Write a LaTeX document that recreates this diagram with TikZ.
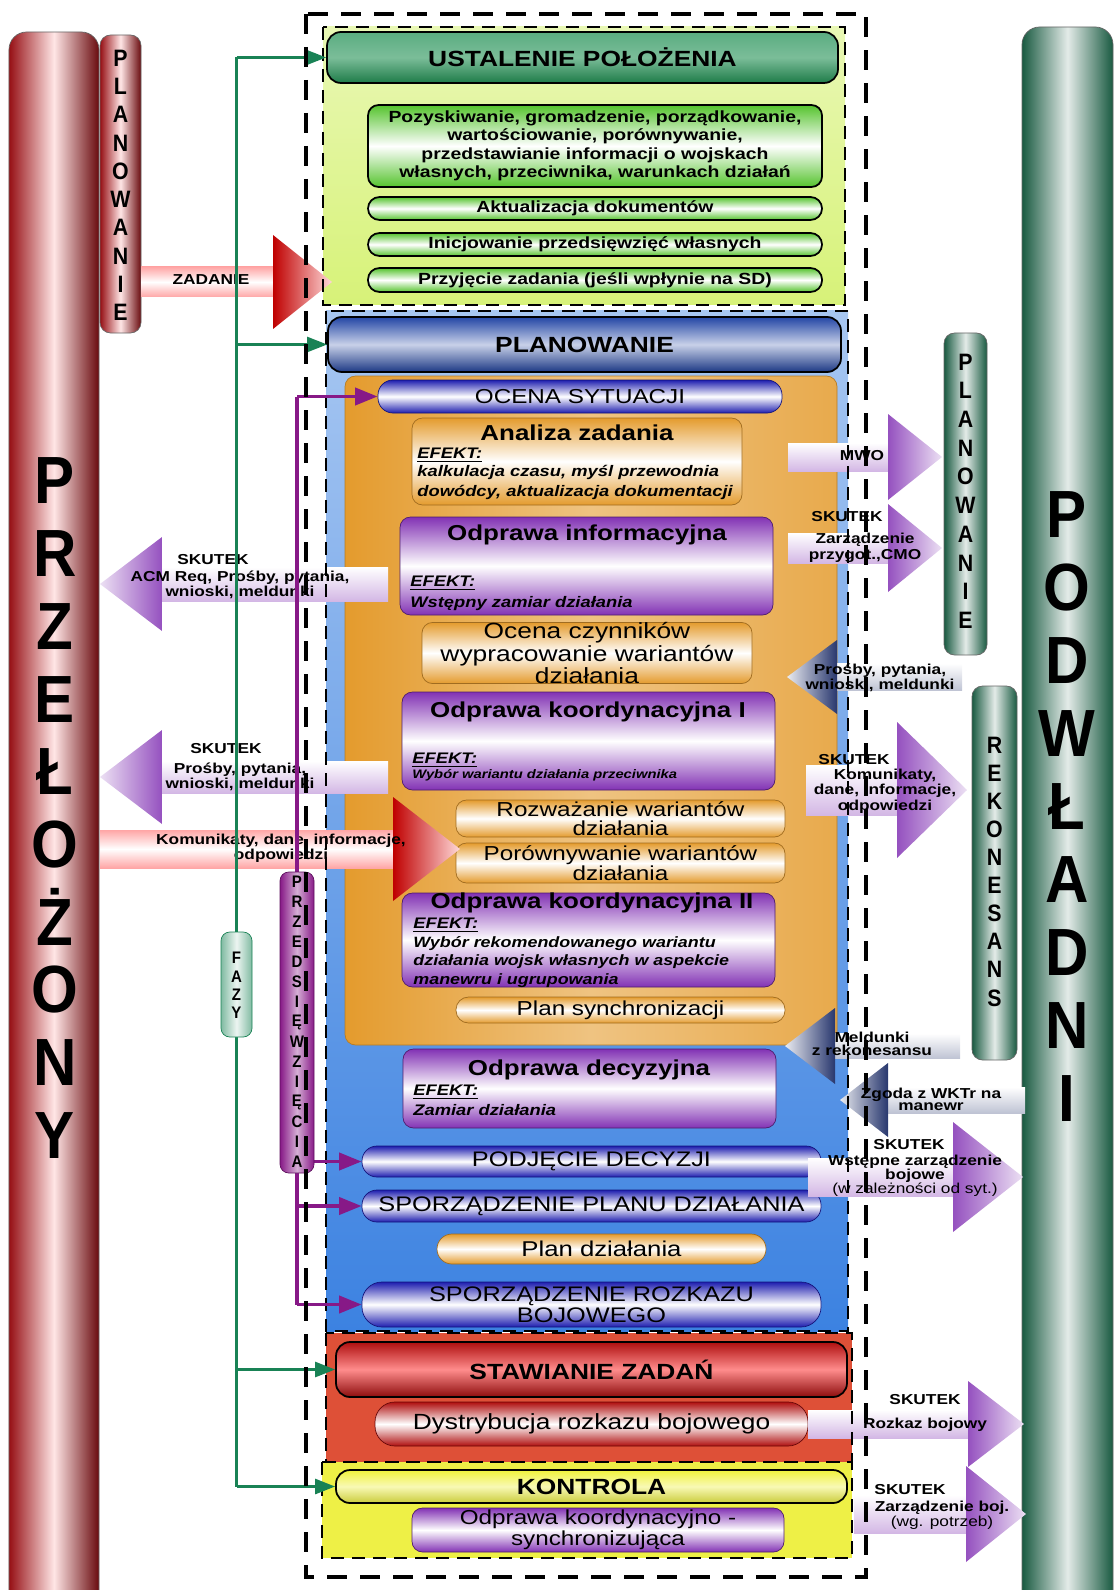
\documentclass[tikz,border=0pt]{standalone}
\usepackage{fontspec}
\setmainfont{Liberation Sans}[FakeStretch=1.2]
\newfontfamily\narrowfont{Liberation Sans}[FakeStretch=0.9]
\usepackage{tikz}
\usetikzlibrary{arrows.meta, positioning, calc}

\definecolor{przred}{RGB}{150,15,20}
\definecolor{podgreen}{RGB}{25,90,65}
\definecolor{ustgreen}{RGB}{35,145,85}
\definecolor{limebg}{RGB}{215,242,120}
\definecolor{boxgreen}{RGB}{85,195,45}
\definecolor{planblue}{RGB}{35,70,165}
\definecolor{skyblue}{RGB}{60,130,225}
\definecolor{ocher}{RGB}{228,155,45}
\definecolor{lilac}{RGB}{130,50,180}
\definecolor{pillblue}{RGB}{30,30,175}
\definecolor{tomato}{RGB}{222,80,55}
\definecolor{darkred}{RGB}{175,15,15}
\definecolor{lemon}{RGB}{238,240,70}
\definecolor{fazgreen}{RGB}{25,130,85}
\definecolor{przpurple}{RGB}{135,25,135}
\definecolor{slate}{RGB}{40,55,110}

% block arrow: body, head, x start, x base, x tip, y, half body, half head
\newcommand{\blockarr}[8]{%
  \shade[#1] (#3,#6-#7) rectangle (#4,#6+#7);
  \shade[#2] (#4,#6-#8) -- (#5,#6) -- (#4,#6+#8) -- cycle;}

\begin{document}
\begin{tikzpicture}[x=0.2mm, y=-0.2mm,
  sec/.style={draw=black, line width=0.9pt, dash pattern=on 2.6mm off 1.6mm},
  outer/.style={draw=black, line width=1.8pt, dash pattern=on 4mm off 2.6mm},
  cyl/.style={draw=black!60, rounded corners=10pt, inner sep=0pt},
  biglet/.style={font=\narrowfont\bfseries\fontsize{38}{38}\selectfont, inner sep=0pt},
  midlet/.style={font=\narrowfont\bfseries\fontsize{13.5}{13.5}\selectfont, inner sep=0pt},
  smlet/.style={font=\narrowfont\bfseries\fontsize{9.5}{9.5}\selectfont, inner sep=0pt},
  hdr/.style={draw=black, line width=1pt, rounded corners=8pt, inner sep=0pt, font=\fontsize{12.5}{14}\selectfont\bfseries},
  grbox/.style={draw=black, line width=1pt, rounded corners=6pt, inner sep=0pt, top color=boxgreen, bottom color=boxgreen, middle color=white, align=center, font=\fontsize{9.2}{10.5}\selectfont\bfseries},
  grpill/.style={grbox, rounded corners=2.3mm},
  orbox/.style={draw=ocher!70!black, rounded corners=6pt, inner sep=0pt, top color=ocher, bottom color=ocher, middle color=white, align=center, font=\fontsize{12.5}{11}\selectfont},
  pubox/.style={draw=lilac!60!black, rounded corners=6pt, inner sep=0pt, top color=lilac, bottom color=lilac, middle color=white, align=center},
  blpill/.style={draw=pillblue!70!black, rounded corners=3mm, inner sep=0pt, top color=pillblue, bottom color=pillblue, middle color=white, align=center, font=\fontsize{12}{12}\selectfont},
  ttl/.style={font=\fontsize{12.3}{14}\selectfont\bfseries, inner sep=0pt},
  eff/.style={font=\fontsize{8.7}{11.3}\selectfont\bfseries\itshape, inner sep=0pt, align=left, anchor=west},
  lbl/.style={font=\fontsize{8.2}{8.8}\selectfont\bfseries, inner sep=0pt, align=center},
  purbody/.style={top color=white, bottom color=lilac!35},
  purhead/.style={left color=lilac!85, right color=lilac!15},
  purheadl/.style={left color=lilac!15, right color=lilac!85},
  bluebody/.style={top color=white, bottom color=slate!30},
  blueheadl/.style={left color=slate!10, right color=slate},
  redbody/.style={top color=red!35, bottom color=red!35, middle color=white},
  redhead/.style={left color=red!75!black, right color=red!15},
  fazline/.style={draw=fazgreen, line width=1.5pt},
  fazarrow/.style={fazline, -{Triangle[length=4mm, width=3mm]}},
  przline/.style={draw=przpurple, line width=2.2pt},
  przarrow/.style={przline, -{Triangle[length=4.5mm, width=3.4mm]}}]
\useasboundingbox (0,0) rectangle (1116,1590);

% side columns
\node[cyl, left color=przred, right color=przred!70!black, middle color=red!10, minimum width=18mm, minimum height=315.6mm] (przel) at (54,821) {};
\foreach \l [count=\i] in {P,R,Z,E,Ł,O,Ż,O,N,Y}
  \node[biglet] (przel-\i) at (55,408.3+72.7*\i) {\l};
\node[cyl, left color=podgreen, right color=podgreen, middle color=podgreen!12, minimum width=18.2mm, minimum height=316.6mm] (podw) at (1067.5,818.5) {};
\foreach \l [count=\i] in {P,O,D,W,Ł,A,D,N,I}
  \node[biglet] (podw-\i) at (1067,442+73*\i) {\l};
\node[cyl, rounded corners=6pt, left color=przred, right color=przred!70!black, middle color=red!10, minimum width=8.2mm, minimum height=59.6mm] (planl) at (120.5,184) {};
\foreach \l [count=\i] in {P,L,A,N,O,W,A,N,I,E}
  \node[midlet] (planl-\i) at (120.5,29.7+28.3*\i) {\l};
\node[cyl, rounded corners=6pt, left color=podgreen, right color=podgreen, middle color=podgreen!12, minimum width=8.6mm, minimum height=64.4mm] (planr) at (965.5,494) {};
\foreach \l [count=\i] in {P,L,A,N,O,W,A,N,I,E}
  \node[midlet] (planr-\i) at (965.5,333.3+28.7*\i) {\l};
\node[cyl, rounded corners=6pt, left color=podgreen, right color=podgreen, middle color=podgreen!12, minimum width=9mm, minimum height=74.8mm] (rekon) at (994.5,873) {};
\foreach \l [count=\i] in {R,E,K,O,N,E,S,A,N,S}
  \node[midlet] (rekon-\i) at (994.5,716.9+28.1*\i) {\l};

% phases
\shade[top color=limebg!55, bottom color=limebg] (323,27) rectangle (845,305);
\shade[top color=skyblue!45, bottom color=skyblue] (326,311) rectangle (848,1331);
\draw[draw=ocher!80!black, rounded corners=6pt, left color=ocher, right color=ocher!85, middle color=ocher!60!white] (345,376) rectangle (837,1045);
\fill[tomato] (326,1333) rectangle (852,1462);
\fill[lemon] (322,1462) rectangle (852,1558);

\node[hdr, top color=ustgreen!75, bottom color=ustgreen!85!black, middle color=ustgreen!60, minimum width=102.2mm, minimum height=10.2mm] (ust) at (582.5,57.5) {USTALENIE POŁOŻENIA};
\node[grbox, minimum width=90.8mm, minimum height=16.4mm] (pozysk) at (595,146) {Pozyskiwanie, gromadzenie, porządkowanie,\\wartościowanie, porównywanie,\\przedstawianie informacji o wojskach\\własnych, przeciwnika, warunkach działań};
\node[grpill, minimum width=90.8mm, minimum height=4.6mm] (aktual) at (595,208.5) {Aktualizacja dokumentów};
\node[grpill, minimum width=90.8mm, minimum height=4.6mm] (inicj) at (595,244.5) {Inicjowanie przedsięwzięć własnych};
\node[grpill, minimum width=90.8mm, minimum height=4.8mm] (przyj) at (595,280) {Przyjęcie zadania (jeśli wpłynie na SD)};

\node[hdr, top color=planblue, bottom color=planblue!80!black, middle color=planblue!25!white, minimum width=102.6mm, minimum height=11mm] (planh) at (584.5,344.5) {PLANOWANIE};
\node[blpill, font=\fontsize{11.5}{12}\selectfont, minimum width=80.8mm, minimum height=6.6mm] (ocena) at (580,396.5) {OCENA SYTUACJI};

\node[orbox, minimum width=66mm, minimum height=17.4mm] (analiza) at (577,461.5) {};
\node[ttl] (analiza-t) at (577,433) {Analiza zadania};
\node[eff] (analiza-e) at (417,455) {\underline{EFEKT:}};
\node[eff] (analiza-d) at (417,482.5) {kalkulacja czasu, myśl przewodnia\\dowódcy, aktualizacja dokumentacji};

\node[pubox, minimum width=74.6mm, minimum height=19.6mm] (odpinf) at (586.5,566) {};
\node[ttl] (odpinf-t) at (587,535) {Odprawa informacyjna};
\node[eff] (odpinf-e) at (410,583) {\underline{EFEKT:}};
\node[eff] (odpinf-d) at (410,604) {Wstępny zamiar działania};

\node[orbox, minimum width=66mm, minimum height=12mm] (ocenacz) at (587,653) {Ocena czynników\\wypracowanie wariantów\\działania};

\node[pubox, minimum width=74.6mm, minimum height=19.6mm] (odpk1) at (588.5,741) {};
\node[ttl] (odpk1-t) at (588,712) {Odprawa koordynacyjna I};
\node[eff] (odpk1-e) at (412,760) {\underline{EFEKT:}};
\node[eff, font=\fontsize{7}{8}\selectfont\bfseries\itshape] (odpk1-d) at (412,775) {Wybór wariantu działania przeciwnika};

\node[orbox, font=\fontsize{11.5}{10.8}\selectfont, minimum width=65.8mm, minimum height=7.4mm] (rozw) at (620.5,818.5) {Rozważanie wariantów\\działania};
\node[orbox, font=\fontsize{11.5}{11.5}\selectfont, minimum width=65.8mm, minimum height=8mm] (porow) at (620.5,863) {Porównywanie wariantów\\działania};

\node[pubox, minimum width=74.6mm, minimum height=18.8mm] (odpk2) at (588.5,940) {};
\node[ttl] (odpk2-t) at (592,903) {Odprawa koordynacyjna II};
\node[eff] (odpk2-e) at (413,925) {\underline{EFEKT:}};
\node[eff, font=\fontsize{8.5}{10.5}\selectfont\bfseries\itshape] (odpk2-d) at (413,962) {Wybór rekomendowanego wariantu\\działania wojsk własnych w aspekcie\\manewru i ugrupowania};

\node[orbox, font=\fontsize{11.5}{12}\selectfont, rounded corners=2.5mm, minimum width=65.8mm, minimum height=5.2mm] (plansync) at (620.5,1010) {Plan synchronizacji};

\node[pubox, minimum width=74.6mm, minimum height=15.8mm] (odpdec) at (589.5,1088.5) {};
\node[ttl] (odpdec-t) at (589,1070) {Odprawa decyzyjna};
\node[eff] (odpdec-e) at (413,1092) {\underline{EFEKT:}};
\node[eff] (odpdec-d) at (413,1110) {Zamiar działania};

\node[blpill, minimum width=91.8mm, minimum height=6.2mm] (podj) at (591.5,1161.5) {PODJĘCIE DECYZJI};
\node[blpill, minimum width=91.8mm, minimum height=6.4mm] (sporzp) at (591.5,1206) {SPORZĄDZENIE PLANU DZIAŁANIA};
\node[orbox, font=\fontsize{12.2}{12}\selectfont, rounded corners=3mm, minimum width=65.8mm, minimum height=6mm] (plandz) at (601.5,1249) {Plan działania};
\node[blpill, font=\fontsize{12}{12}\selectfont, rounded corners=4mm, minimum width=91.8mm, minimum height=9mm] (sporzr) at (591.5,1304.5) {SPORZĄDZENIE ROZKAZU\\BOJOWEGO};

\node[hdr, top color=darkred, bottom color=darkred!80!black, middle color=red!45, minimum width=102.2mm, minimum height=11mm] (stawh) at (591.5,1369.5) {STAWIANIE ZADAŃ};
\node[draw=darkred!60!black, rounded corners=4mm, inner sep=0pt, top color=darkred, bottom color=darkred, middle color=white, font=\fontsize{12.5}{12}\selectfont, minimum width=86.6mm, minimum height=8.8mm] (dystr) at (591.5,1424) {Dystrybucja rozkazu bojowego};

\node[hdr, top color=lemon!85!yellow, bottom color=lemon!85!black, middle color=lemon!40!white, minimum width=102.2mm, minimum height=6.6mm] (kontrh) at (591.5,1486.5) {KONTROLA};
\node[pubox, font=\fontsize{11.5}{10}\selectfont, minimum width=74.4mm, minimum height=8.8mm] (odprks) at (598,1530) {Odprawa koordynacyjno -\\synchronizująca};

% block arrows, left side
\blockarr{redbody}{redhead}{141}{273}{332}{282}{15}{47}
\node[lbl] (zad-l) at (211,280) {ZADANIE};
\blockarr{purbody}{purheadl}{388}{162}{100}{584}{17}{47}
\node[lbl] (acm-sk) at (213,560) {SKUTEK};
\node[lbl] (acm-l) at (240,585) {ACM Req, Prośby, pytania,\\wnioski, meldunki};
\blockarr{purbody}{purheadl}{388}{162}{100}{777}{16}{47}
\node[lbl] (pyt-sk) at (226,749) {SKUTEK};
\node[lbl] (pyt-l) at (240,777) {Prośby, pytania,\\wnioski, meldunki};
\blockarr{redbody}{redhead}{100}{393}{460}{849}{19}{52}
\node[lbl] (kom-l) at (281,848) {Komunikaty, dane, informacje,\\odpowiedzi};

% block arrows, right side
\blockarr{purbody}{purhead}{788}{888}{942}{457}{14}{43}
\node[lbl] (mwo-l) at (862,456) {MWO};
\blockarr{purbody}{purhead}{788}{888}{942}{548}{15}{44}
\node[lbl] (cmo-sk) at (847,517) {SKUTEK};
\node[lbl] (cmo-l) at (865,548) {Zarządzenie\\przygot.,CMO};
\blockarr{bluebody}{blueheadl}{962}{837}{787}{677}{13.5}{37}
\node[lbl] (pyr-l) at (880,678) {Prośby, pytania,\\wnioski, meldunki};
\blockarr{purbody}{purhead}{806}{897}{967}{790}{25}{68}
\node[lbl] (kor-sk) at (854,760) {SKUTEK};
\node[lbl] (kor-l) at (885,791) {Komunikaty,\\dane, informacje,\\odpowiedzi};
\blockarr{bluebody}{blueheadl}{960}{835}{785}{1046}{12.5}{38}
\node[lbl, font=\fontsize{8.2}{7.4}\selectfont\bfseries] (mel-l) at (872,1044) {Meldunki\\z rekonesansu};
\blockarr{bluebody}{blueheadl}{1025}{888}{840}{1100}{13}{37}
\node[lbl, font=\fontsize{8.2}{7}\selectfont\bfseries] (zg-l) at (931,1099) {Zgoda z WKTr na\\manewr};
\blockarr{purbody}{purhead}{808}{953}{1023}{1177}{19}{55}
\node[lbl] (wst-sk) at (909,1145) {SKUTEK};
\node[lbl, font=\fontsize{8.2}{8}\selectfont\bfseries] (wst-l) at (915,1176) {Wstępne zarządzenie\\bojowe\\{\mdseries (w zależności od syt.)}};
\blockarr{purbody}{purhead}{808}{968}{1024}{1424}{14}{43}
\node[lbl] (roz-sk) at (925,1400) {SKUTEK};
\node[lbl] (roz-l) at (925,1425) {Rozkaz bojowy};
\blockarr{purbody}{purhead}{854}{966}{1026}{1514}{19}{48}
\node[lbl] (zb-sk) at (910,1490) {SKUTEK};
\node[lbl] (zb-l) at (942,1515) {Zarządzenie boj.\\{\mdseries (wg. potrzeb)}};

% phase borders
\draw[sec] (323,27) rectangle (845,305);
\draw[sec] (326,311) rectangle (848,1331);
\draw[sec] (326,1333) rectangle (852,1462);
\draw[sec] (322,1462) rectangle (852,1558);

% phases line
\coordinate (fz-top) at (236.5,57.5);
\coordinate (fz-bot) at (236.5,1486.5);
\draw[fazline] (fz-top) -- (fz-bot);
\draw[fazarrow] (fz-top) -- (ust.west);
\draw[fazarrow] (fz-top |- planh.west) -- (planh.west);
\draw[fazarrow] (fz-top |- stawh.west) -- (stawh.west);
\draw[fazarrow] (fz-bot) -- (kontrh.west);
\node[cyl, draw=fazgreen, rounded corners=5pt, left color=fazgreen!55, right color=fazgreen!55, middle color=fazgreen!8, minimum width=6.2mm, minimum height=21mm] (fazy) at (236.5,984.5) {};
\foreach \l [count=\i] in {F,A,Z,Y}
  \node[smlet] (fazy-\i) at (236.5,939.6+18.4*\i) {\l};

% undertakings line
\coordinate (pr-top) at (297,396.5);
\coordinate (pr-bot) at (297,1304.5);
\draw[przline] (pr-top) -- (pr-bot);
\draw[przarrow] (pr-top) -- (ocena.west);
\draw[przarrow] (pr-top |- podj.west) -- (podj.west);
\draw[przarrow] (pr-top |- sporzp.west) -- (sporzp.west);
\draw[przarrow] (pr-bot) -- (sporzr.west);
\node[cyl, draw=przpurple!70!black, rounded corners=5pt, left color=przpurple, right color=przpurple, middle color=przpurple!35!white, minimum width=6.8mm, minimum height=60.2mm] (przed) at (297,1022.5) {};
\foreach \l [count=\i] in {P,R,Z,E,D,S,I,Ę,W,Z,I,Ę,C,I,A}
  \node[smlet] (przed-\i) at (297,862+20*\i) {\l};

\draw[outer] (306,14) rectangle (866,1577);
\end{tikzpicture}
\end{document}
